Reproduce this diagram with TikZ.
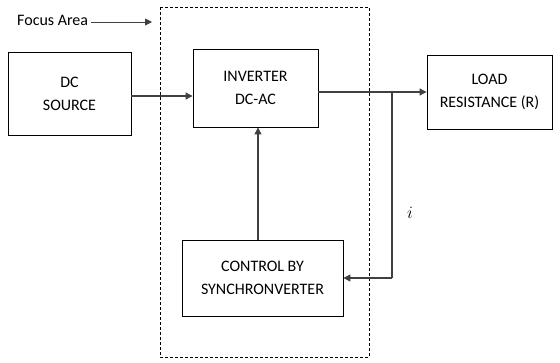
\documentclass[tikz,border=0pt]{standalone}
\usepackage{fontspec}
\setmainfont{Carlito}
\usetikzlibrary{arrows.meta}
\begin{document}
\begin{tikzpicture}[x=1pt,y=-1pt,
  blk/.style={draw=black, line width=0.9pt, align=center, font=\fontsize{16}{23}\selectfont, inner sep=0pt},
  conn/.style={draw=black!75, line width=1.1pt, -{Triangle[length=7pt,width=7pt]}},
  plain/.style={draw=black!75, line width=1.1pt}]
\useasboundingbox (0,0) rectangle (560,362);
\draw[dashed, line width=0.8pt, dash pattern=on 3pt off 2pt] (160,7) rectangle (369,357);
\node[blk, minimum width=123pt, minimum height=83pt] (dc) at (69.5,93.5) {DC\\SOURCE};
\node[blk, minimum width=125pt, minimum height=78pt] (inv) at (255.5,88) {INVERTER\\DC-AC};
\node[blk, minimum width=125pt, minimum height=74pt] (load) at (489.5,92) {LOAD\\RESISTANCE (R)};
\node[blk, minimum width=161pt, minimum height=76pt] (ctl) at (262.5,278) {CONTROL BY\\SYNCHRONVERTER};
\node[font=\fontsize{16}{18}\selectfont, anchor=west, inner sep=0pt] (fa) at (17,20) {Focus Area};
\coordinate (faend) at (152,22);
\draw[conn, line width=0.9pt] (fa.east |- faend) ++(3,0) -- (faend);
\draw[conn] (dc.east |- 0,96) -- (inv.west |- 0,96);
\coordinate (br) at (392,92);
\coordinate (bot) at (392,278);
\draw[conn] (inv.east |- br) -- (load.west |- br);
\draw[plain] (br) -- (bot);
\draw[conn] (bot) -- (ctl.east |- bot);
\draw[conn] (ctl.north -| 258,0) -- (inv.south -| 258,0);
\node[font=\fontsize{18}{20}\selectfont] (i) at (410,213) {$i$};
\end{tikzpicture}
\end{document}
